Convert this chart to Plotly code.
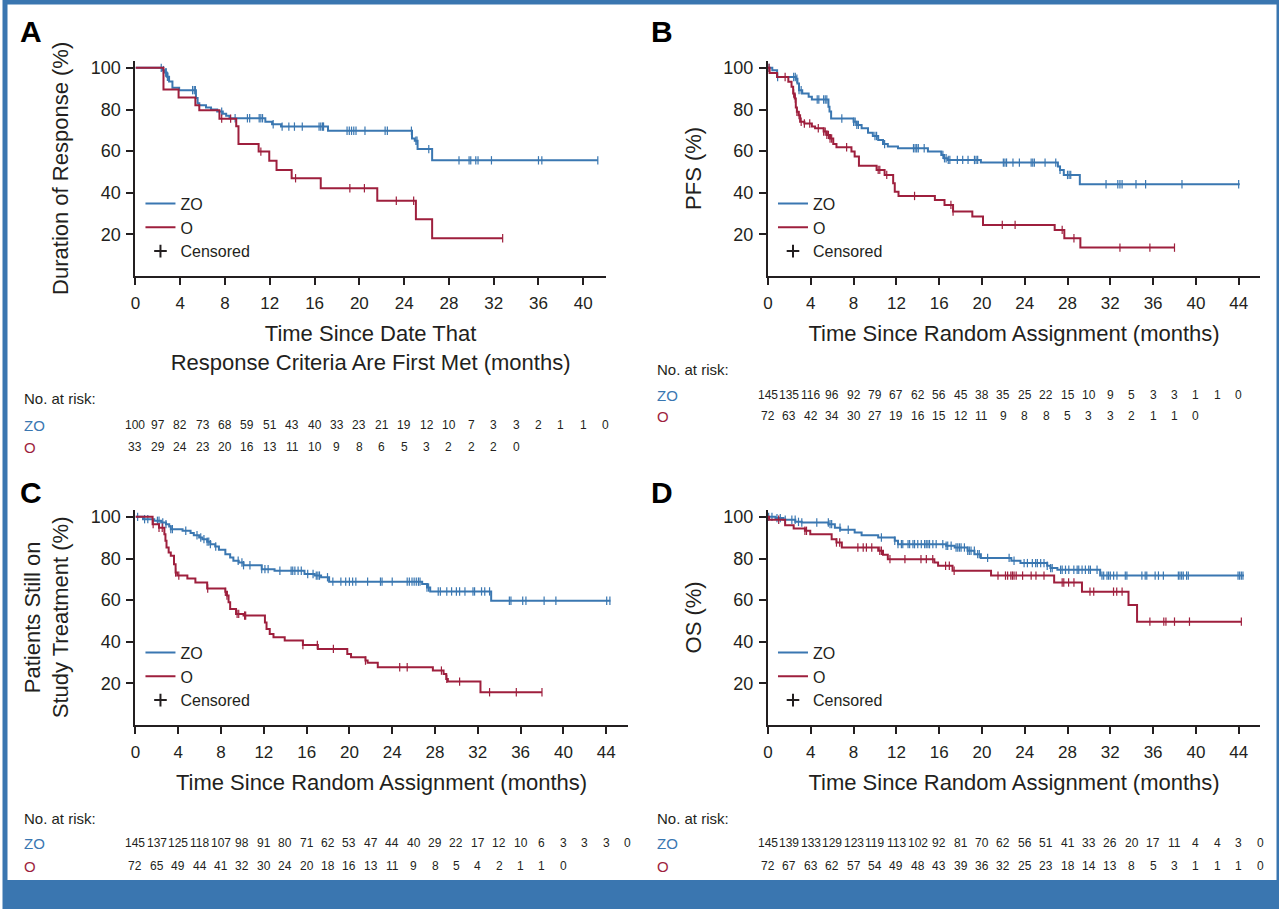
import plotly.graph_objects as go

W, H = 1279, 909
FONT = "Liberation Sans, Arial, Helvetica, sans-serif"
INK = "#231f20"
ZO_COLOR = "#3a77b1"
O_COLOR = "#9e1f3d"
FRAME = "#3a76b0"

# ---------------- data (months, %) ----------------
# Panel A: Duration of response
A_ZO_T = [0, 2.4, 2.6, 2.8, 3.0, 3.3, 3.9, 5.4, 5.55, 5.7, 6.3, 6.75, 7.3, 7.8, 8.1, 8.4, 11.6, 12.2, 13.0, 17.2, 24.7, 24.95, 25.2, 26.5]
A_ZO_S = [100, 98.9, 97.8, 95.7, 93.5, 90.4, 89.3, 85.5, 83.0, 82.0, 81.0, 80.0, 79.0, 78.0, 77.0, 75.8, 74.1, 72.9, 71.8, 69.8, 66.1, 65.0, 61.0, 55.6]
A_ZO_END = 41.3
A_ZO_CENS = [2.3, 2.5, 2.7, 2.75, 2.85, 2.9, 5.1, 5.25, 5.35, 7.7, 8.9, 10.0, 10.2, 11.05, 11.2, 11.35, 12.3, 13.1, 13.7, 14.2, 14.9,
             16.4, 16.55, 16.7, 16.8, 18.9, 19.1, 19.3, 19.5, 19.7, 20.5, 22.3, 22.5, 24.65, 25.05, 25.15, 26.2, 28.9, 29.8,
             29.95, 30.4, 30.6, 31.8, 36.0, 36.3, 41.3]
A_O_T = [0, 2.5, 3.85, 5.35, 5.7, 7.5, 9.0, 9.2, 11.0, 11.95, 12.6, 13.95, 16.55, 21.6, 25.05, 26.5]
A_O_S = [100, 89.6, 85.8, 82.1, 79.6, 75.6, 72.0, 63.4, 59.8, 55.4, 51.0, 47.0, 42.2, 36.2, 27.3, 18.2]
A_O_END = 32.8
A_O_CENS = [7.7, 8.5, 11.2, 14.3, 19.15, 20.45, 23.3, 24.85, 32.8]
A_RISK_ZO = [100, 97, 82, 73, 68, 59, 51, 43, 40, 33, 23, 21, 19, 12, 10, 7, 3, 3, 2, 1, 1, 0]
A_RISK_O = [33, 29, 24, 23, 20, 16, 13, 11, 10, 9, 8, 6, 5, 3, 2, 2, 2, 0]

# Panel B: PFS
B_ZO_T = [0, 0.4, 0.85, 2.6, 2.75, 2.9, 3.2, 3.8, 4.1, 5.65, 5.75, 5.9, 8.0, 8.3, 8.75, 9.35, 9.8, 10.3, 10.75, 11.2, 12.15, 14.95,
          16.2, 16.45, 16.8, 19.9, 27.1, 27.3, 27.65, 29.15]
B_ZO_S = [100, 98.9, 95.6, 94.8, 92.5, 89.3, 87.7, 86.1, 84.8, 81.3, 79.0, 75.7, 74.1, 72.6, 71.0, 68.9, 67.3, 65.4, 63.4, 62.2, 61.4,
          59.8, 58.2, 56.6, 55.8, 54.5, 52.6, 51.0, 48.6, 44.1]
B_ZO_END = 44.1
B_ZO_CENS = [0.1, 0.9, 2.4, 2.55, 2.7, 2.9, 3.1, 4.6, 4.75, 5.2, 5.35, 5.5, 6.9, 8.0, 8.15, 8.3, 8.45, 10.0, 10.15, 10.9, 13.6, 13.75,
             13.9, 14.05, 14.6, 16.35, 16.5, 16.65, 16.85, 17.0, 17.7, 18.2, 18.7, 19.3, 19.45, 19.6, 22.0, 22.15, 22.3, 22.9, 23.5,
             24.6, 24.75, 24.9, 25.9, 26.9, 27.3, 28.0, 28.15, 28.3, 31.6, 32.7, 32.9, 33.1, 34.4, 35.3, 38.7, 44.0]
B_O_T = [0, 0.15, 0.85, 1.9, 2.2, 2.35, 2.5, 2.6, 2.7, 2.85, 3.0, 3.4, 4.1, 4.4, 5.2, 5.5, 5.8, 6.1, 6.4, 7.8, 8.1, 8.5, 10.15, 10.9,
         11.7, 11.85, 12.2, 15.6, 16.5, 17.3, 19.1, 20.1, 26.8, 27.7, 29.2]
B_O_S = [100, 97.5, 95.6, 93.3, 90.9, 87.7, 85.3, 81.0, 78.9, 77.3, 74.1, 73.3, 71.8, 71.0, 69.4, 67.8, 66.1, 63.4, 61.9, 59.8, 57.4,
         53.0, 51.0, 48.6, 44.6, 40.5, 38.5, 36.6, 34.2, 31.0, 28.6, 24.6, 22.2, 18.2, 13.7]
B_O_END = 38.0
B_O_CENS = [0.1, 1.6, 2.4, 2.55, 2.7, 2.9, 3.1, 3.4, 3.9, 4.7, 5.2, 5.35, 5.5, 5.65, 5.8, 5.95, 7.35, 10.3, 10.45, 11.1, 13.7, 17.1,
            17.3, 21.9, 23.1, 27.5, 28.6, 32.9, 35.7, 38.0]
B_RISK_ZO = [145, 135, 116, 96, 92, 79, 67, 62, 56, 45, 38, 35, 25, 22, 15, 10, 9, 5, 3, 3, 1, 1, 0]
B_RISK_O = [72, 63, 42, 34, 30, 27, 19, 16, 15, 12, 11, 9, 8, 8, 5, 3, 3, 2, 1, 1, 0]

# Panel C: Patients still on study treatment
C_ZO_T = [0, 0.7, 1.75, 2.4, 2.85, 3.15, 3.3, 4.4, 5.15, 5.45, 5.95, 6.25, 6.7, 7.0, 7.45, 7.8, 8.4, 8.85, 9.15, 9.65, 10.1, 11.8,
          13.0, 15.8, 16.75, 17.35, 18.1, 26.8, 27.25, 27.55, 33.25]
C_ZO_S = [100, 98.9, 98.1, 97.3, 96.5, 95.4, 94.1, 93.3, 92.2, 91.2, 90.1, 89.3, 88.1, 86.9, 85.8, 84.2, 82.1, 80.5, 78.9, 78.1, 76.8,
          74.9, 74.1, 72.6, 71.8, 71.0, 68.9, 67.8, 66.1, 64.2, 59.7]
C_ZO_END = 44.4
C_ZO_CENS = [0.2, 0.85, 1.15, 2.05, 2.2, 2.55, 2.85, 3.3, 3.45, 4.7, 5.75, 6.1, 6.4, 6.7, 6.85, 7.0, 7.5, 9.6, 9.95, 10.1, 10.7, 11.8,
             12.1, 12.4, 13.5, 14.55, 14.7, 14.9, 15.2, 15.5, 16.1, 16.6, 16.9, 17.05, 17.2, 17.95, 18.45, 19.2, 19.65, 20.0, 20.3,
             20.6, 21.7, 22.9, 23.05, 24.0, 25.4, 25.6, 25.85, 26.05, 26.25, 26.45, 26.6, 27.25, 27.4, 28.3, 28.5, 29.1, 29.55,
             30.0, 30.3, 30.8, 31.55, 31.7, 32.35, 32.65, 33.1, 34.95, 35.1, 36.2, 36.5, 38.2, 39.3, 44.05, 44.35]
C_O_T = [0, 1.6, 2.2, 2.7, 2.8, 2.9, 3.1, 3.3, 3.6, 3.75, 3.9, 4.85, 5.6, 6.7, 8.4, 8.55, 8.7, 8.85, 9.4, 10.1, 12.1, 12.25, 12.55,
         12.9, 13.95, 15.65, 17.05, 19.8, 20.15, 21.5, 21.7, 22.65, 27.8, 28.8, 29.05, 29.2, 32.25]
C_O_S = [100, 96.5, 94.8, 91.7, 88.5, 85.3, 82.9, 81.3, 77.3, 73.3, 71.8, 70.4, 68.5, 65.6, 64.0, 62.2, 59.0, 55.8, 53.4, 52.6, 49.3,
         46.2, 43.8, 42.2, 40.6, 38.5, 36.6, 34.2, 32.6, 31.0, 29.9, 27.8, 26.2, 24.6, 22.2, 20.9, 15.8]
C_O_END = 38.0
C_O_CENS = [1.65, 2.2, 2.5, 3.75, 4.05, 6.75, 8.4, 8.55, 9.5, 9.65, 10.2, 10.3, 15.65, 17.0, 18.5, 21.5, 24.7, 25.4, 28.6, 29.1,
            30.3, 33.1, 35.6, 38.0]
C_RISK_ZO = [145, 137, 125, 118, 107, 98, 91, 80, 71, 62, 53, 47, 44, 40, 29, 22, 17, 12, 10, 6, 3, 3, 3, 0]
C_RISK_O = [72, 65, 49, 44, 41, 32, 30, 24, 20, 18, 16, 13, 11, 9, 8, 5, 4, 2, 1, 1, 0]

# Panel D: OS
D_ZO_T = [0, 0.7, 1.45, 2.55, 3.15, 5.65, 6.25, 6.75, 8.1, 8.75, 10.3, 11.85, 12.15, 16.65, 17.45, 18.65, 19.3, 19.9, 22.75,
          23.6, 26.1, 26.4, 27.05, 31.05]
D_ZO_S = [100, 99.4, 98.6, 97.6, 97.3, 96.5, 94.8, 93.8, 92.5, 91.2, 90.1, 88.5, 86.9, 86.1, 85.3, 83.7, 82.1, 80.3, 78.9, 77.8,
          76.5, 75.4, 74.6, 71.8]
D_ZO_END = 44.5
D_ZO_CENS = [0.06, 0.37, 0.84, 1.15, 1.61, 2.23, 2.54, 2.85, 3.16, 4.56, 5.64, 5.8, 5.95, 6.73, 7.5, 10.6, 11.85, 12.15, 12.47,
             12.6, 13.09, 13.24, 13.55, 13.7, 14.0, 14.33, 14.64, 14.79, 14.95, 15.1, 15.41, 15.72, 16.34, 16.65, 16.8, 17.12,
             17.58, 17.74, 17.9, 18.05, 18.36, 18.67, 18.82, 18.98, 19.29, 19.6, 19.75, 20.53, 22.54, 23.0, 23.94, 24.25, 24.71,
             25.02, 25.18, 25.49, 25.8, 26.1, 26.42, 26.57, 27.35, 27.5, 27.81, 28.12, 28.59, 28.9, 29.05, 29.36, 29.67, 29.98,
             30.14, 30.76, 31.22, 31.38, 31.69, 31.84, 32.0, 32.31, 32.62, 33.4, 33.55, 34.95, 35.26, 35.41, 36.19, 36.5, 36.96,
             38.36, 38.51, 38.67, 38.82, 39.13, 39.29, 43.94, 44.09, 44.25, 44.4]
D_O_T = [0, 0.1, 1.6, 2.4, 3.45, 3.95, 5.95, 6.4, 6.9, 10.3, 10.75, 11.2, 15.55, 15.9, 17.25, 20.85, 26.75, 29.35, 33.7, 34.5]
D_O_S = [100, 98.6, 96.0, 94.4, 93.3, 91.7, 89.3, 87.7, 85.3, 83.7, 81.8, 79.7, 78.1, 76.5, 74.1, 71.8, 68.5, 64.1, 57.7, 49.7]
D_O_END = 44.25
D_O_CENS = [1.0, 3.45, 3.6, 6.4, 6.7, 8.4, 8.9, 9.2, 9.7, 10.45, 10.6, 11.4, 12.8, 14.3, 14.8, 15.4, 16.6, 16.95, 17.4, 21.5, 22.2,
            22.4, 22.7, 22.85, 23.0, 23.2, 23.8, 24.6, 25.05, 25.8, 27.5, 27.65, 28.1, 28.6, 30.1, 30.45, 32.3, 32.6, 33.1, 35.7,
            37.0, 37.2, 38.0, 39.4, 44.25]
D_RISK_ZO = [145, 139, 133, 129, 123, 119, 113, 102, 92, 81, 70, 62, 56, 51, 41, 33, 26, 20, 17, 11, 4, 4, 3, 0]
D_RISK_O = [72, 67, 63, 62, 57, 54, 49, 48, 43, 39, 36, 32, 25, 23, 18, 14, 13, 8, 5, 3, 1, 1, 1, 0]

GROUPS = ["ZO", "O"]
Y_TICKS = [20, 40, 60, 80, 100]
RISK_STEP = 2  # months between at-risk counts

# ---------------- helpers ----------------
def fx(p):
    return p / W

def fy(p):
    return 1 - p / H

def surv_at(times, vals, t):
    s = vals[0]
    for ti, vi in zip(times, vals):
        if ti <= t:
            s = vi
    return s

YMAX = 103.5
PPU = 2.0875  # px per percent

panels = [
    dict(letter="A", n=1, x0=131, x1=603, xmax=42, xtick_last=40, y0=274.75, lx=26, ly=30,
         ytitle="Duration of Response (%)", xtitle="Time Since Date That<br>Response Criteria Are First Met (months)",
         zo=(A_ZO_T, A_ZO_S, A_ZO_END, A_ZO_CENS), o=(A_O_T, A_O_S, A_O_END, A_O_CENS),
         risk=(A_RISK_ZO, A_RISK_O), risk_y=(397, 424, 446), risk_lx=17, leg=(136, 185)),
    dict(letter="B", n=2, x0=766, x1=1260, xmax=46, xtick_last=44, y0=274.75, lx=660, ly=30,
         ytitle="PFS (%)", xtitle="Time Since Random Assignment (months)",
         zo=(B_ZO_T, B_ZO_S, B_ZO_END, B_ZO_CENS), o=(B_O_T, B_O_S, B_O_END, B_O_CENS),
         risk=(B_RISK_ZO, B_RISK_O), risk_y=(368, 394, 415), risk_lx=653, leg=(771, 185)),
    dict(letter="C", n=3, x0=131, x1=625, xmax=46, xtick_last=44, y0=724.75, lx=26, ly=492,
         ytitle="Patients Still on<br>Study Treatment (%)", xtitle="Time Since Random Assignment (months)",
         zo=(C_ZO_T, C_ZO_S, C_ZO_END, C_ZO_CENS), o=(C_O_T, C_O_S, C_O_END, C_O_CENS),
         risk=(C_RISK_ZO, C_RISK_O), risk_y=(818, 843, 866), risk_lx=17, leg=(136, 635)),
    dict(letter="D", n=4, x0=766, x1=1260, xmax=46, xtick_last=44, y0=724.75, lx=660, ly=492,
         ytitle="OS (%)", xtitle="Time Since Random Assignment (months)",
         zo=(D_ZO_T, D_ZO_S, D_ZO_END, D_ZO_CENS), o=(D_O_T, D_O_S, D_O_END, D_O_CENS),
         risk=(D_RISK_ZO, D_RISK_O), risk_y=(818, 843, 866), risk_lx=653, leg=(771, 635)),
]

fig = go.Figure()
annotations = []
layout = {}

for p in panels:
    n = p["n"]
    sfx = "" if n == 1 else str(n)
    xref, yref = "x" + sfx, "y" + sfx
    legname = "legend" + sfx
    for g, key, col in (("ZO", "zo", ZO_COLOR), ("O", "o", O_COLOR)):
        t, s, end, cens = p[key]
        fig.add_trace(go.Scatter(
            x=t + [end], y=s + [s[-1]], mode="lines", line=dict(color=col, width=2, shape="hv"),
            name=g, xaxis=xref, yaxis=yref, legend=legname, showlegend=True, hoverinfo="skip"))
        fig.add_trace(go.Scatter(
            x=cens, y=[surv_at(t, s, c) for c in cens], mode="markers",
            marker=dict(symbol="line-ns", size=6, line=dict(color=col, width=1.2)),
            xaxis=xref, yaxis=yref, showlegend=False, hoverinfo="skip", cliponaxis=False))
    fig.add_trace(go.Scatter(
        x=[None], y=[None], mode="markers", name="Censored",
        marker=dict(symbol="cross-thin", size=9, line=dict(color=INK, width=2)),
        xaxis=xref, yaxis=yref, legend=legname, showlegend=True))

    ytop = p["y0"] - YMAX * PPU
    layout["xaxis" + sfx] = dict(
        domain=[fx(p["x0"]), fx(p["x1"])], range=[0, p["xmax"]], anchor=yref,
        tickmode="array", tickvals=list(range(0, p["xtick_last"] + 1, 4)),
        ticks="outside", ticklen=7, tickwidth=1.5, tickcolor=INK,
        showline=True, linewidth=2, linecolor=INK, showgrid=False, zeroline=False,
        tickfont=dict(family=FONT, size=17, color=INK), ticklabelstandoff=3,
        title=dict(text=p["xtitle"], font=dict(family=FONT, size=22, color=INK), standoff=14))
    layout["yaxis" + sfx] = dict(
        domain=[fy(p["y0"]), fy(ytop)], range=[0, YMAX], anchor=xref,
        tickmode="array", tickvals=Y_TICKS,
        ticks="outside", ticklen=7, tickwidth=1.5, tickcolor=INK,
        showline=True, linewidth=2, linecolor=INK, showgrid=False, zeroline=False,
        tickfont=dict(family=FONT, size=18, color=INK), ticklabelstandoff=2,
        title=dict(text=p["ytitle"], font=dict(family=FONT, size=22, color=INK), standoff=16))
    layout[legname] = dict(
        x=fx(p["leg"][0]), y=fy(p["leg"][1]), xanchor="left", yanchor="top",
        bgcolor="rgba(0,0,0,0)", font=dict(family=FONT, size=16, color=INK),
        tracegroupgap=0, itemwidth=30, traceorder="normal")

    # panel letter
    annotations.append(dict(text="<b>%s</b>" % p["letter"], x=fx(p["lx"]), y=fy(p["ly"]), xref="paper", yref="paper",
                            showarrow=False, xanchor="center", yanchor="middle",
                            font=dict(family=FONT, size=30, color="#000000")))
    # at-risk table
    hy, zy, oy = p["risk_y"]
    annotations.append(dict(text="No. at risk:", x=fx(p["risk_lx"]), y=fy(hy), xref="paper", yref="paper",
                            showarrow=False, xanchor="left", yanchor="middle",
                            font=dict(family=FONT, size=15, color=INK)))
    for label, row, rowy, col in (("ZO", p["risk"][0], zy, ZO_COLOR), ("O", p["risk"][1], oy, O_COLOR)):
        annotations.append(dict(text=label, x=fx(p["risk_lx"]), y=fy(rowy), xref="paper", yref="paper",
                                showarrow=False, xanchor="left", yanchor="middle",
                                font=dict(family=FONT, size=15, color=col)))
        for i, v in enumerate(row):
            annotations.append(dict(text=str(v), x=i * RISK_STEP, y=fy(rowy), xref=xref, yref="paper",
                                    showarrow=False, xanchor="center", yanchor="middle",
                                    font=dict(family=FONT, size=12, color=INK)))

shapes = [
    dict(type="rect", xref="paper", yref="paper", x0=0, x1=1, y0=fy(880), y1=0,
         fillcolor=FRAME, line=dict(width=0), layer="above"),
    dict(type="rect", xref="paper", yref="paper", x0=0, x1=1, y0=0, y1=1,
         fillcolor="rgba(0,0,0,0)", line=dict(color=FRAME, width=5), layer="above"),
]

fig.update_layout(
    width=W, height=H, margin=dict(l=0, r=0, t=0, b=0),
    paper_bgcolor="white", plot_bgcolor="white",
    font=dict(family=FONT, color=INK),
    annotations=annotations, shapes=shapes, **layout)

fig.write_html("out.html")
